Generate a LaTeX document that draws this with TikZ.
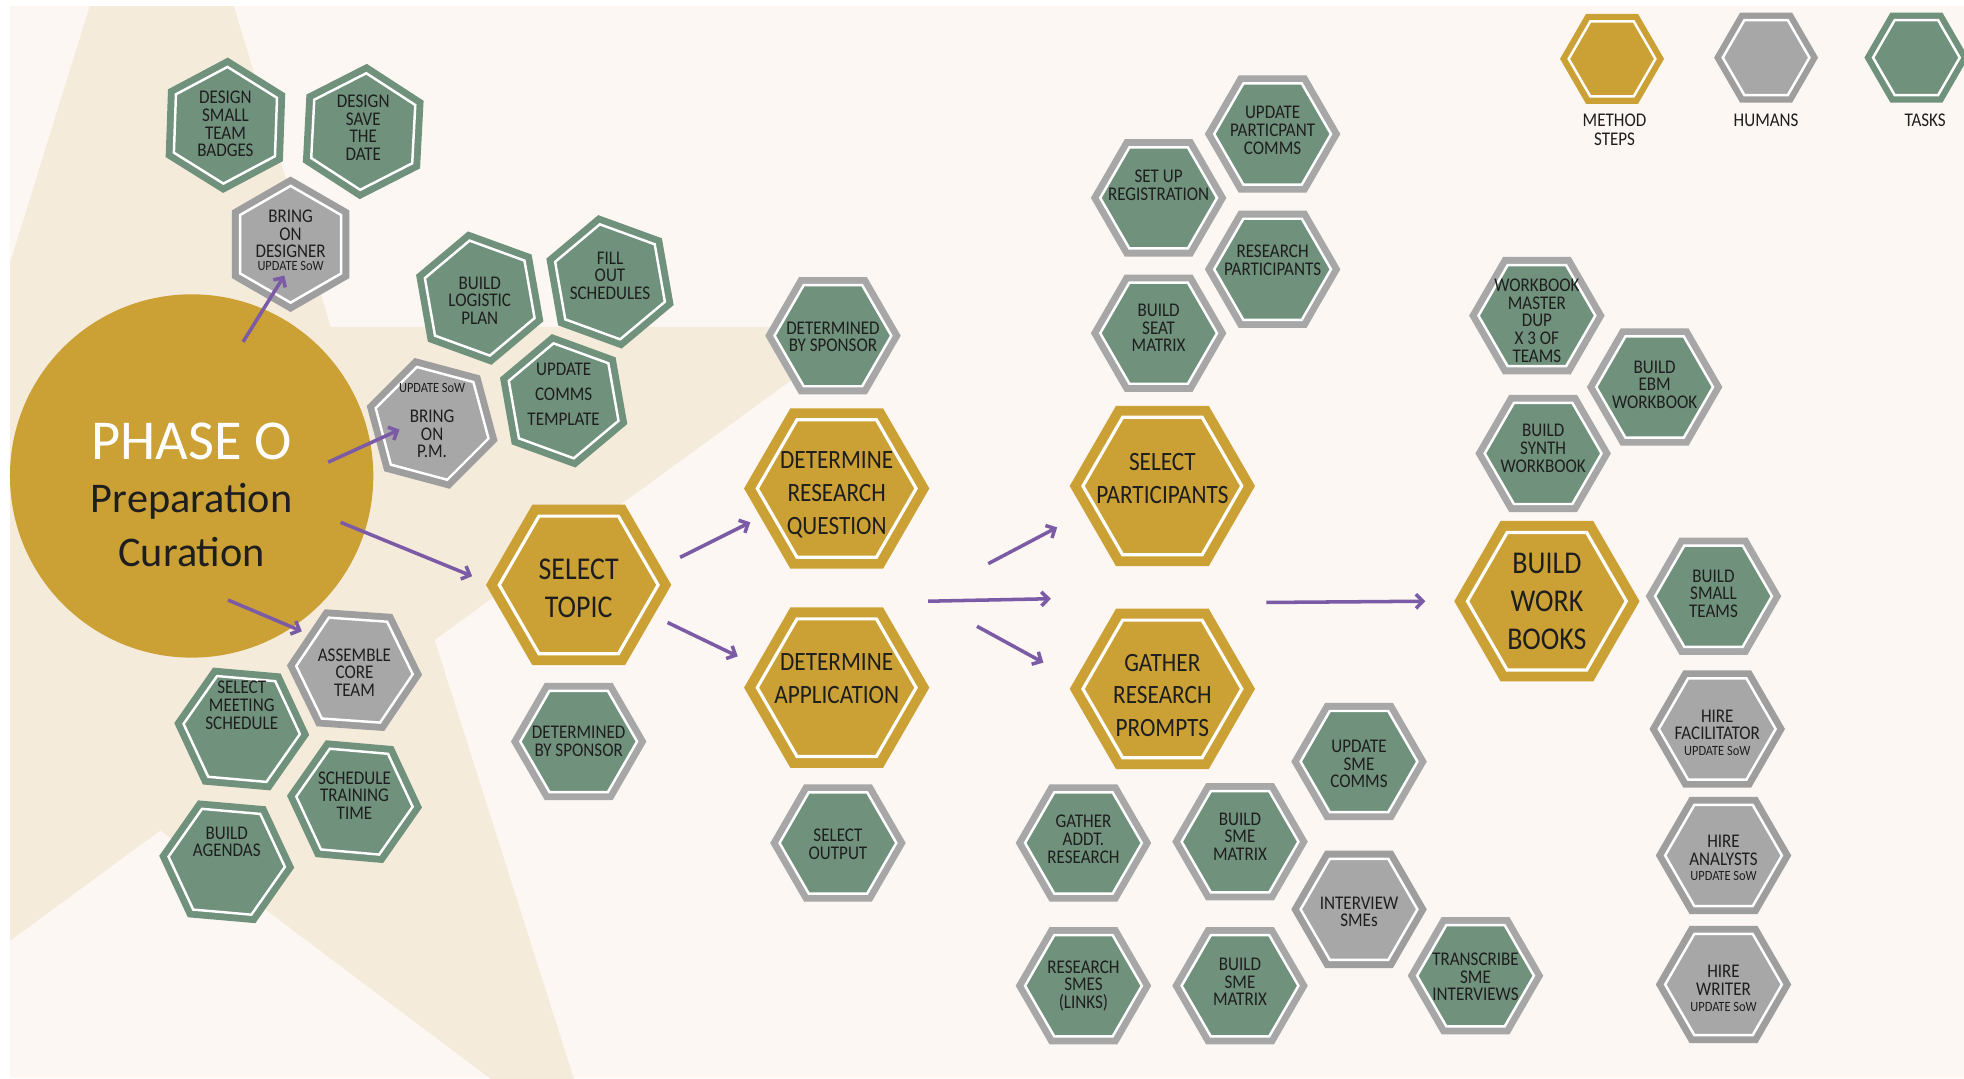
\documentclass[tikz,border=0pt]{standalone}
\usepackage{fontspec}
\setmainfont[FakeStretch=0.88]{Carlito}
\newfontfamily\phasefont{Carlito}
\usepackage{tikz}
\usetikzlibrary{shapes.geometric,arrows.meta}

\definecolor{gold}{HTML}{CBA135}
\definecolor{sage}{HTML}{70917C}
\definecolor{stone}{HTML}{A7A7A7}
\definecolor{stoneband}{HTML}{9E9E9E}
\definecolor{arrowpurple}{HTML}{7B5BA6}
\definecolor{paper}{HTML}{FCF7F3}
\definecolor{sand}{HTML}{F5EBDB}
\definecolor{ink}{HTML}{1E1E1E}

\begin{document}
\begin{tikzpicture}[x=0.025cm, y=-0.025cm, >={Straight Barb[length=4pt,width=8pt]},
    hexa/.style={regular polygon, regular polygon sides=6, inner sep=0pt, draw=white},
    stepbox/.style={hexa, minimum size=3.17cm, line width=1.8pt, fill=gold, preaction={draw=gold, line width=13pt}},
    task/.style={hexa, minimum size=2.33cm, line width=1.4pt, fill=sage, preaction={draw=stone, line width=9.2pt}},
    taskg/.style={hexa, minimum size=2.33cm, line width=1.4pt, fill=sage, preaction={draw=sage, line width=9.2pt}},
    human/.style={hexa, minimum size=2.33cm, line width=1.4pt, fill=stone, preaction={draw=stoneband, line width=9.2pt}},
    tasktext/.style={align=center, text=ink, inner sep=0pt, font=\fontsize{11}{10}\selectfont},
    steptext/.style={align=center, text=ink, inner sep=0pt, font=\fontsize{15}{18.5}\selectfont},
    bigtext/.style={align=center, text=ink, inner sep=0pt, font=\fontsize{18}{21.5}\selectfont},
    keytext/.style={align=center, text=ink, inner sep=0pt, font=\fontsize{11}{10.8}\selectfont},
    phasetext/.style={align=center, text=ink, inner sep=0pt, font=\phasefont\fontsize{24}{30.5}\selectfont},
    flow/.style={->, draw=arrowpurple, line width=2pt}]
    \useasboundingbox (0,0) rectangle (1568,861);
    \fill[white] (0,0) rectangle (1568,861);
    \fill[paper] (8,5) rectangle (1568,861);
    \begin{scope}
      \clip (8,5) rectangle (1568,861);
      \fill[sand] (130,-183) -- (264,261) -- (690,261) -- (347,511) -- (479,927) -- (128,663) -- (-60,801) -- (-60,429) -- cycle;
    \end{scope}

    % phase
    \node[circle, fill=gold, minimum size=7.25cm, inner sep=0pt, label={[phasetext, shift={(0,15)}]center:{\fontsize{32}{30.5}\selectfont\color{white}PHASE O}\\Preparation\\Curation}] (phase) at (153,380) {};

    % method steps
    \node[stepbox, label={[bigtext, shift={(0,3)}]center:SELECT\\TOPIC}] (topic) at (462,467) {};
    \node[stepbox, label={[steptext, shift={(0,5)}]center:DETERMINE\\RESEARCH\\QUESTION}] (question) at (668,390) {};
    \node[stepbox, label={[steptext, shift={(0,-7)}]center:DETERMINE\\APPLICATION}] (application) at (668,549) {};
    \node[stepbox, label={[steptext, shift={(0,-6)}]center:SELECT\\PARTICIPANTS}] (participants) at (928,388) {};
    \node[stepbox, label={[steptext, shift={(0,5)}]center:GATHER\\RESEARCH\\PROMPTS}] (prompts) at (928,550) {};
    \node[stepbox, label={[bigtext]center:BUILD\\WORK\\BOOKS}] (workbooks) at (1235,480) {};

    % humans
    \node[human, shape border rotate=30, label={[tasktext, shift={(0,-3)}]center:BRING\\ON\\DESIGNER\\[-2.5pt]{\fontsize{8}{8}\selectfont UPDATE SoW}}] (designer) at (232,195) {};
    \node[human, shape border rotate=-15, label={[tasktext, shift={(0,-2)}]center:{\fontsize{8}{8}\selectfont UPDATE SoW}\\[7pt]BRING\\ON\\P.M.}] (pm) at (345,338) {};
    \node[human, shape border rotate=-4, label={[tasktext, shift={(0,2)}]center:ASSEMBLE\\CORE\\TEAM}] (core) at (283,535) {};
    \node[human, label={[tasktext, shift={(0,2)}]center:INTERVIEW\\SMEs}] (interview) at (1085,726) {};
    \node[human, label={[tasktext, shift={(0,3)}]center:HIRE\\FACILITATOR\\[-1pt]{\fontsize{8}{8}\selectfont UPDATE SoW}}] (facilitator) at (1371,582) {};
    \node[human, label={[tasktext, shift={(0,2)}]center:HIRE\\ANALYSTS\\[-1pt]{\fontsize{8}{8}\selectfont UPDATE SoW}}] (analysts) at (1376,683) {};
    \node[human, label={[tasktext, shift={(0,3)}]center:HIRE\\WRITER\\[-1pt]{\fontsize{8}{8}\selectfont UPDATE SoW}}] (writer) at (1376,786) {};

    % tasks
    \node[taskg, shape border rotate=28, label={[tasktext, shift={(0,-1)}]center:DESIGN\\SMALL\\TEAM\\BADGES}] (badges) at (180,100) {};
    \node[taskg, shape border rotate=27, label={[tasktext, shift={(0,-3)}]center:DESIGN\\SAVE\\THE\\DATE}] (savedate) at (290,105) {};
    \node[taskg, shape border rotate=-20, label={[tasktext, shift={(0,2)}]center:BUILD\\LOGISTIC\\PLAN}] (logistic) at (383,238) {};
    \node[taskg, shape border rotate=-20, label={[tasktext, shift={(0,-5)}]center:FILL\\OUT\\SCHEDULES}] (schedules) at (487,225) {};
    \node[taskg, shape border rotate=-20, label={[tasktext, shift={(0,-5)}, font=\fontsize{11}{14.2}\selectfont]center:UPDATE\\COMMS\\TEMPLATE}] (template) at (450,320) {};
    \node[taskg, shape border rotate=-5, label={[tasktext, shift={(0,-19)}]center:SELECT\\MEETING\\SCHEDULE}] (meeting) at (193,582) {};
    \node[taskg, shape border rotate=-5, label={[tasktext, shift={(0,-5)}]center:SCHEDULE\\TRAINING\\TIME}] (training) at (283,640) {};
    \node[taskg, shape border rotate=-5, label={[tasktext, shift={(0,-16)}]center:BUILD\\AGENDAS}] (agendas) at (181,688) {};

    \node[task, label={[tasktext, shift={(0,1)}]center:DETERMINED\\BY SPONSOR}] (sponsorq) at (665,268) {};
    \node[task, label={[tasktext]center:DETERMINED\\BY SPONSOR}] (sponsort) at (462,592) {};
    \node[task, label={[tasktext, shift={(0,1)}]center:SELECT\\OUTPUT}] (output) at (669,673) {};
    \node[task, label={[tasktext, shift={(0,-10)}]center:SET UP\\REGISTRATION}] (registration) at (925,158) {};
    \node[task, label={[tasktext, shift={(0,-3)}]center:UPDATE\\PARTICPANT\\COMMS}] (pcomms) at (1016,107) {};
    \node[task, label={[tasktext, shift={(0,-7)}]center:RESEARCH\\PARTICIPANTS}] (research) at (1016,215) {};
    \node[task, label={[tasktext, shift={(0,-4)}]center:BUILD\\SEAT\\MATRIX}] (seat) at (925,266) {};
    \node[task, label={[tasktext, shift={(0,-3)}]center:GATHER\\ADDT.\\RESEARCH}] (addt) at (865,673) {};
    \node[task, label={[tasktext, shift={(0,-4)}]center:BUILD\\SME\\MATRIX}] (smematrix) at (990,672) {};
    \node[task, label={[tasktext]center:RESEARCH\\SMES\\(LINKS)}] (smelinks) at (865,787) {};
    \node[task, label={[tasktext, shift={(0,-3)}]center:BUILD\\SME\\MATRIX}] (smematrixb) at (990,787) {};
    \node[task, label={[tasktext, shift={(0,2)}]center:UPDATE\\SME\\COMMS}] (smecomms) at (1085,608) {};
    \node[task, label={[tasktext, shift={(0,1)}]center:TRANSCRIBE\\SME\\INTERVIEWS}] (transcribe) at (1178,779) {};
    \node[task, label={[tasktext, shift={(0,-2)}]center:BUILD\\SMALL\\TEAMS}] (teams) at (1368,476) {};
    \node[task, label={[tasktext, shift={(0,4)}]center:WORKBOOK\\MASTER\\DUP\\X 3 OF\\TEAMS}] (master) at (1227,252) {};
    \node[task, label={[tasktext, shift={(0,-2)}]center:BUILD\\EBM\\WORKBOOK}] (ebm) at (1321,309) {};
    \node[task, label={[tasktext, shift={(0,-4)}]center:BUILD\\SYNTH\\WORKBOOK}] (synth) at (1232,362) {};

    % key
    \node[hexa, minimum size=1.73cm, line width=1.4pt, fill=gold, preaction={draw=gold, line width=8.5pt}, label={[keytext, shift={(2,57)}]center:METHOD\\STEPS}] (keystep) at (1287,47) {};
    \node[hexa, minimum size=1.73cm, line width=1.4pt, fill=stone, preaction={draw=stoneband, line width=8.5pt}, label={[keytext, shift={(0,50)}]center:HUMANS}] (keyhuman) at (1410,46) {};
    \node[hexa, minimum size=1.73cm, line width=1.4pt, fill=sage, preaction={draw=sage, line width=8.5pt}, label={[keytext, shift={(7,50)}]center:TASKS}] (keytask) at (1530,46) {};

    \draw[flow] ([shift={(41,-107)}]phase.center) -- ([shift={(-5,25)}]designer.center);
    \draw[flow] ([shift={(109,-11)}]phase.center) -- ([shift={(-26,5)}]pm.center);
    \draw[flow] ([shift={(119,37)}]phase.center) -- ([shift={(-85,-7)}]topic.center);
    \draw[flow] ([shift={(29,99)}]phase.center) -- ([shift={(-42,-31)}]core.center);
    \draw[flow] ([shift={(81,-22)}]topic.center) -- ([shift={(-69,27)}]question.center);
    \draw[flow] ([shift={(71,30)}]topic.center) -- ([shift={(-79,-25)}]application.center);
    \draw[flow] ([shift={(121,60)}]question.center) -- ([shift={(-84,33)}]participants.center);
    \draw[flow] ([shift={(73,-69)}]application.center) -- ([shift={(-89,-72)}]prompts.center);
    \draw[flow] ([shift={(112,-49)}]application.center) -- ([shift={(-95,-21)}]prompts.center);
    \draw[flow] ([shift={(83,-69)}]prompts.center) -- ([shift={(-97,0)}]workbooks.center);
\end{tikzpicture}
\end{document}
